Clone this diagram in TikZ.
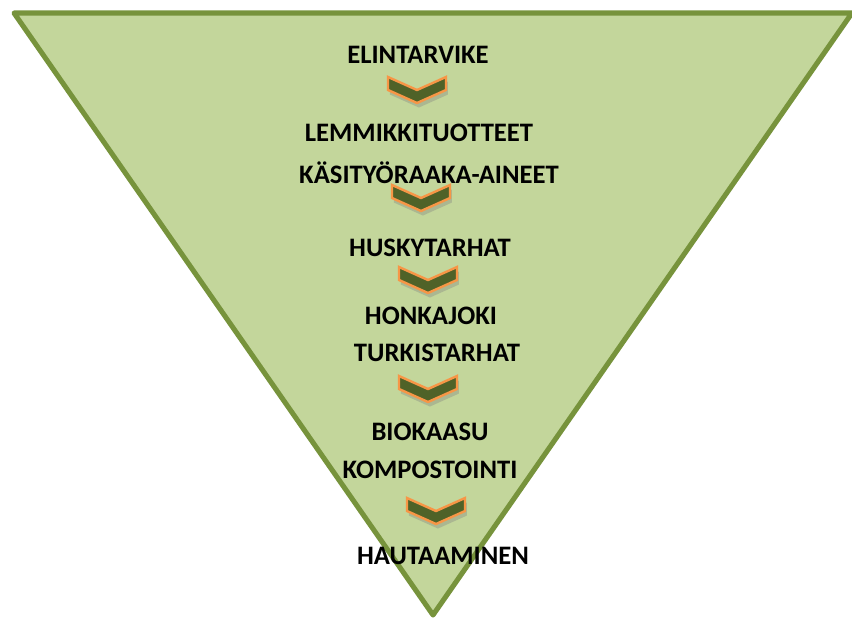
\documentclass[tikz,border=0pt]{standalone}
\usepackage{fontspec}
\setmainfont{Carlito}
\usetikzlibrary{positioning,shadows}

\definecolor{funnelfill}{HTML}{C3D69B}
\definecolor{funneledge}{HTML}{77933C}
\definecolor{chevfill}{HTML}{4F6228}
\definecolor{chevedge}{HTML}{F79646}

\begin{document}
\begin{tikzpicture}[
    x=0.75pt, y=-0.75pt,
    label/.style={inner sep=0pt,font=\fontsize{20}{24}\selectfont\bfseries},
    chevron/.style={fill=chevfill,draw=chevedge,line width=1.8pt,line join=miter,
      drop shadow={shadow xshift=0.5mm,shadow yshift=-1.2mm,opacity=0.35}}
    ]
    \useasboundingbox (0,0) rectangle (852,618);

    % funnel:
    \draw[fill=funnelfill,draw=funneledge,line width=3.8pt,line join=round]
      (14,13) -- (852,13) -- (433,615) -- cycle;

    % chevrons:
    \foreach \x/\y in {417/77, 421/185, 428/267, 428/376, 436/498}
    \draw[chevron] (\x-29,\y) -- (\x,\y+13) -- (\x+29,\y) -- (\x+29,\y+13)
      -- (\x,\y+26) -- (\x-29,\y+13) -- cycle;

    % labels:
    \node (food)    at (418,55)  [label] {ELINTARVIKE};
    \node (pet)     at (419,133) [label] {LEMMIKKITUOTTEET};
    \node (craft)   at (429,173) [label] {KÄSITYÖRAAKA-AINEET};
    \node (husky)   at (430,248) [label] {HUSKYTARHAT};
    \node (honka)   at (431,316) [label] {HONKAJOKI};
    \node (fur)     at (437,353) [label] {TURKISTARHAT};
    \node (biogas)  at (430,432) [label] {BIOKAASU};
    \node (compost) at (430,470) [label] {KOMPOSTOINTI};
    \node (burial)  at (443,556) [label] {HAUTAAMINEN};

\end{tikzpicture}
\end{document}
